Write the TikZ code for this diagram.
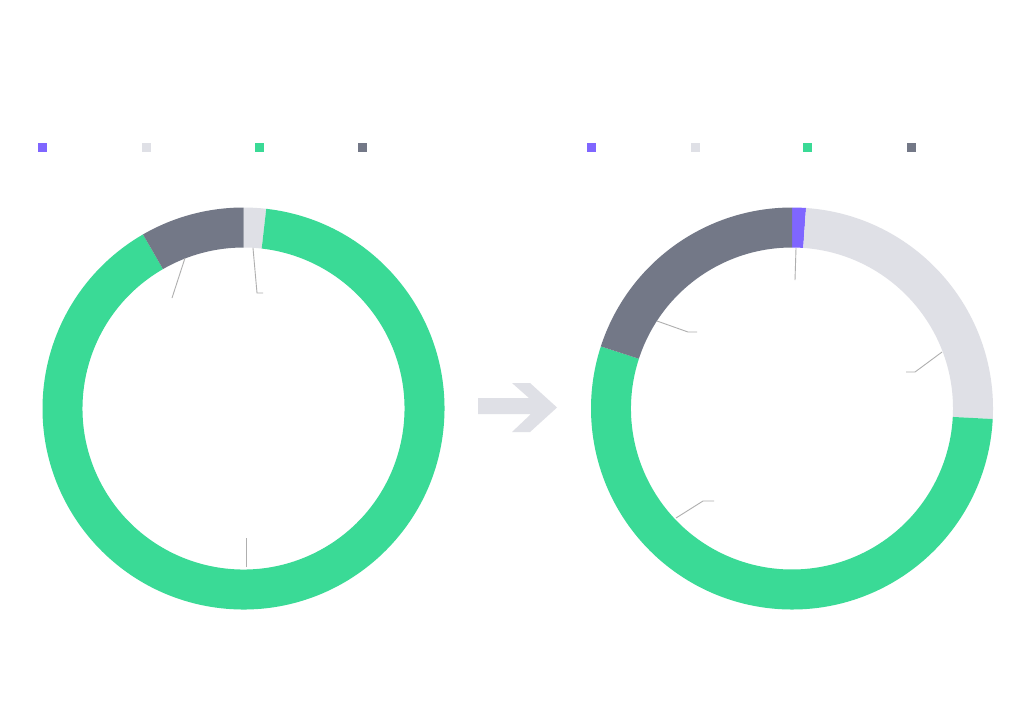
\documentclass[tikz,border=0pt]{standalone}
\usetikzlibrary{calc}
\definecolor{cgreen}{HTML}{3ADA96}
\definecolor{cdark}{HTML}{737887}
\definecolor{clight}{HTML}{DFE0E6}
\definecolor{cpurple}{HTML}{7F66FF}
\definecolor{cleader}{HTML}{AFAFAF}
\tikzset{
  leader/.style={draw=cleader, line width=0.9pt},
  legendsq/.style={minimum size=9pt, inner sep=0pt, outer sep=0pt}
}
% #1 centre, #2 start visual angle, #3 end visual angle, #4 colour
\newcommand{\ringseg}[4]{%
  \fill[#4] ($(#1)+({-(#2)}:201)$) arc[start angle={-(#2)}, end angle={-(#3)}, radius=201]
    -- ($(#1)+({-(#3)}:161)$) arc[start angle={-(#3)}, end angle={-(#2)}, radius=161] -- cycle;}
\begin{document}
\begin{tikzpicture}[x=1pt,y=-1pt]
\useasboundingbox (0,0) rectangle (1024,724);
\fill[white] (0,0) rectangle (1024,724);
% legends
\node[legendsq, fill=cpurple] (l1) at (42.5,147.5) {};
\node[legendsq, fill=clight] (l2) at (146.5,147.5) {};
\node[legendsq, fill=cgreen] (l3) at (259.5,147.5) {};
\node[legendsq, fill=cdark] (l4) at (362.5,147.5) {};
\node[legendsq, fill=cpurple] (r1) at (591.5,147.5) {};
\node[legendsq, fill=clight] (r2) at (695.5,147.5) {};
\node[legendsq, fill=cgreen] (r3) at (807.5,147.5) {};
\node[legendsq, fill=cdark] (r4) at (911.5,147.5) {};
% centres
\coordinate (cl) at (243.5,408.5);
\coordinate (cr) at (792,408.5);
% left donut
\ringseg{cl}{90}{83.5}{clight}
\ringseg{cl}{83.5}{-240}{cgreen}
\ringseg{cl}{120}{90}{cdark}
% right donut
\ringseg{cr}{90}{86}{cpurple}
\ringseg{cr}{86}{-3}{clight}
\ringseg{cr}{-3}{-198}{cgreen}
\ringseg{cr}{162}{90}{cdark}
% leader lines left
\coordinate (la1) at (185,258); \coordinate (la2) at (172,298);
\draw[leader] (la1) -- (la2);
\coordinate (lb1) at (253,248); \coordinate (lb2) at (257,293); \coordinate (lb3) at (263,293);
\draw[leader] (lb1) -- (lb2) -- (lb3);
\coordinate (lc1) at (246,567); \coordinate (lc2) at (246,538);
\draw[leader] (lc1) -- (lc2);
% leader lines right
\coordinate (ra1) at (796,248); \coordinate (ra2) at (795,280);
\draw[leader] (ra1) -- (ra2);
\coordinate (rb1) at (657,321); \coordinate (rb2) at (688,332); \coordinate (rb3) at (697,332);
\draw[leader] (rb1) -- (rb2) -- (rb3);
\coordinate (rc1) at (942,352); \coordinate (rc2) at (915,372); \coordinate (rc3) at (906,372);
\draw[leader] (rc1) -- (rc2) -- (rc3);
\coordinate (rd1) at (676,518); \coordinate (rd2) at (703,501); \coordinate (rd3) at (714,501);
\draw[leader] (rd1) -- (rd2) -- (rd3);
% arrow
\fill[clight] (478,398) -- (529,398) -- (512,383) -- (530,383) -- (557,407.5)
  -- (530,432) -- (512,432) -- (531,414) -- (478,414) -- cycle;
\end{tikzpicture}
\end{document}
